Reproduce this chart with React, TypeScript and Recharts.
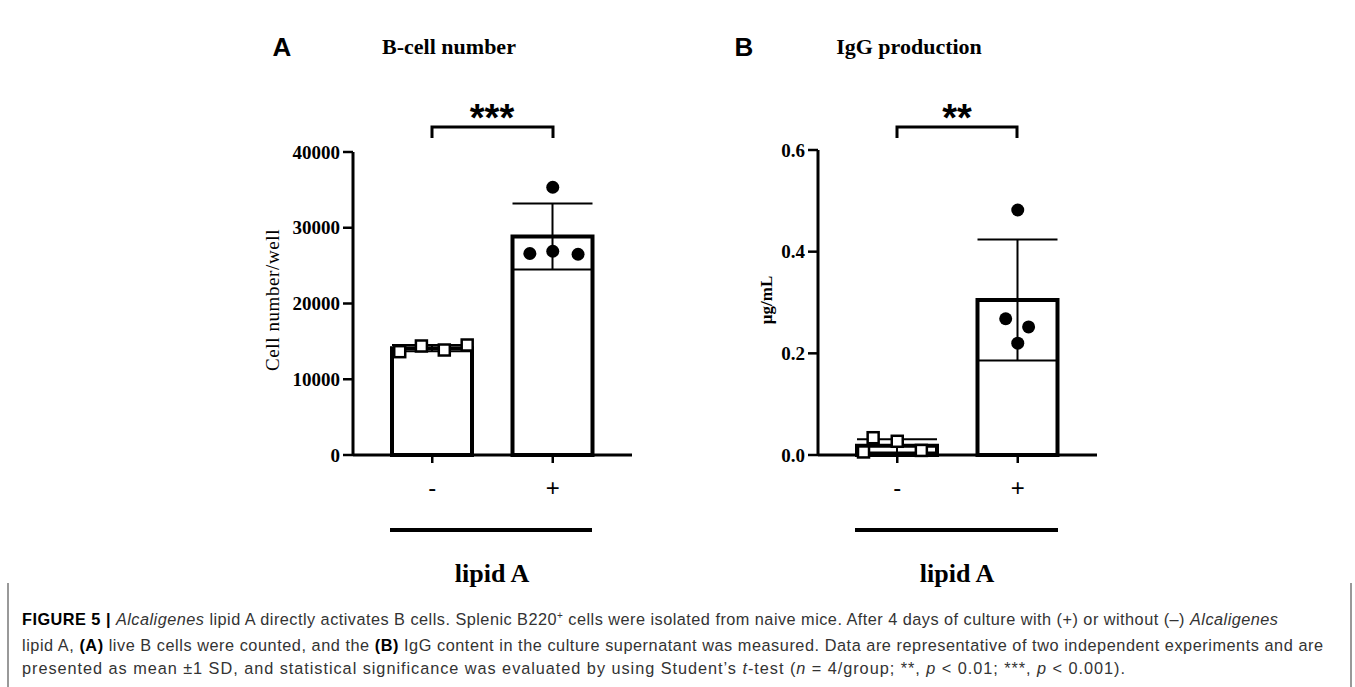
import React from "react";
import { ComposedChart, Bar, ErrorBar, Scatter, XAxis, YAxis } from "recharts";

// groups on the x axis (without / with lipid A)
const groups = ["-", "+"];

// panel A: B-cell number per well
const cellMean = [14100, 28850];
const cellSd = [420, 4360];
const cellMinus = [13640, 14390, 13860, 14520];
const cellMinusJitter = [-0.27, -0.09, 0.1, 0.29];
const cellPlus = [26600, 35350, 26900, 26500];
const cellPlusJitter = [-0.19, 0, 0, 0.21];
const cellTicks = [0, 10000, 20000, 30000, 40000];

// panel B: IgG production (ug/mL)
const iggMean = [0.018, 0.305];
const iggSd = [0.013, 0.119];
const iggMinus = [0.006, 0.034, 0.027, 0.009];
const iggMinusJitter = [-0.28, -0.2, 0, 0.2];
const iggPlus = [0.482, 0.268, 0.252, 0.22];
const iggPlusJitter = [0, -0.1, 0.09, 0];
const iggTicks = [0, 0.2, 0.4, 0.6];

const serif = "'Liberation Serif', 'Times New Roman', serif";
const sans = "'Liberation Sans', Arial, sans-serif";

const toPoints = (vals: number[], jitter: number[], group: number) =>
  vals.map((y, i) => ({ x: group + jitter[i], y }));

const Square = (p: any) => (
  <rect x={p.cx - 5.5} y={p.cy - 5.5} width={11} height={11} fill="#fff" stroke="#000" strokeWidth={2.5} />
);
const Dot = (p: any) => <circle cx={p.cx} cy={p.cy} r={6.5} fill="#000" />;

interface PanelProps {
  left: number;
  top: number;
  mean: number[];
  sd: number[];
  minus: { x: number; y: number }[];
  plus: { x: number; y: number }[];
  ticks: number[];
  fmt: (v: number) => string;
}

function Panel({ left, top, mean, sd, minus, plus, ticks, fmt }: PanelProps) {
  const data = groups.map((g, i) => ({ group: g, mean: mean[i], sd: sd[i] }));
  const max = ticks[ticks.length - 1];
  return (
    <div style={{ position: "absolute", left, top: 0 }}>
      <ComposedChart width={660} height={560} data={data} margin={{ top, right: 28, bottom: 560 - 455 - 50, left: 273 }}>
        <XAxis
          xAxisId="cat"
          dataKey="group"
          padding={{ left: 19, right: 19 }}
          height={50}
          axisLine={{ stroke: "#000", strokeWidth: 3 }}
          tickLine={{ stroke: "#000", strokeWidth: 2.5 }}
          tickSize={8}
          tickMargin={16}
          tick={{ fill: "#000", fontSize: 24, fontFamily: sans }}
        />
        <XAxis xAxisId="num" dataKey="x" type="number" domain={[-0.5, 1.5]} padding={{ left: 19, right: 19 }} hide />
        <YAxis
          width={80}
          domain={[0, max]}
          ticks={ticks}
          tickFormatter={fmt}
          interval={0}
          axisLine={{ stroke: "#000", strokeWidth: 3 }}
          tickLine={{ stroke: "#000", strokeWidth: 2.5 }}
          tickSize={10}
          tickMargin={3}
          tick={{ fill: "#000", fontSize: 19, fontWeight: "bold", fontFamily: serif }}
        />
        <Bar xAxisId="cat" dataKey="mean" barSize={80} fill="#fff" stroke="#000" strokeWidth={4} isAnimationActive={false}>
          <ErrorBar dataKey="sd" width={40} stroke="#000" strokeWidth={2} />
        </Bar>
        <Scatter xAxisId="num" data={minus} dataKey="y" shape={Square} isAnimationActive={false} />
        <Scatter xAxisId="num" data={plus} dataKey="y" shape={Dot} isAnimationActive={false} />
      </ComposedChart>
    </div>
  );
}

function Overlay() {
  const txt = { fill: "#333", fontFamily: sans, fontSize: 16.3 };
  return (
    <svg width={1355} height={687} style={{ position: "absolute", left: 0, top: 0, pointerEvents: "none" }}>
      {/* panel A annotations */}
      <text x={282} y={56} textAnchor="middle" fontFamily={sans} fontWeight="bold" fontSize={26}>A</text>
      <text x={449} y={54} textAnchor="middle" fontFamily={serif} fontWeight="bold" fontSize={22}>B-cell number</text>
      <path d="M432,138 V127 H553 V138" fill="none" stroke="#000" strokeWidth={3} />
      <text x={492} y={131} textAnchor="middle" fontFamily={sans} fontWeight="bold" fontSize={38}>***</text>
      <text x={272} y={300} textAnchor="middle" dominantBaseline="central" fontFamily={serif} fontSize={19} letterSpacing={0.6} transform="rotate(-90 272 300)">
        Cell number/well
      </text>
      <line x1={390} x2={592} y1={530} y2={530} stroke="#000" strokeWidth={4} />
      <text x={492} y={582} textAnchor="middle" fontFamily={serif} fontWeight="bold" fontSize={26}>lipid A</text>

      {/* panel B annotations */}
      <text x={744} y={56} textAnchor="middle" fontFamily={sans} fontWeight="bold" fontSize={26}>B</text>
      <text x={909} y={54} textAnchor="middle" fontFamily={serif} fontWeight="bold" fontSize={22}>IgG production</text>
      <path d="M897,138 V127 H1017 V138" fill="none" stroke="#000" strokeWidth={3} />
      <text x={957} y={131} textAnchor="middle" fontFamily={sans} fontWeight="bold" fontSize={38}>**</text>
      <text x={766} y={300} textAnchor="middle" dominantBaseline="central" fontFamily={serif} fontWeight="bold" fontSize={17} transform="rotate(-90 766 300)">
        µg/mL
      </text>
      <line x1={855} x2={1058} y1={530} y2={530} stroke="#000" strokeWidth={4} />
      <text x={957} y={582} textAnchor="middle" fontFamily={serif} fontWeight="bold" fontSize={26}>lipid A</text>

      {/* caption frame */}
      <line x1={8} x2={8} y1={583} y2={687} stroke="#777" strokeWidth={1.5} />
      <line x1={1351} x2={1351} y1={583} y2={687} stroke="#777" strokeWidth={1.5} />
      <text x={22} y={625} {...txt} textLength={1256} lengthAdjust="spacing">
        <tspan fontWeight="bold" fill="#000">FIGURE 5 | </tspan>
        <tspan fontStyle="italic">Alcaligenes</tspan> lipid A directly activates B cells. Splenic B220
        <tspan fontSize={10} dy={-6}>+</tspan>
        <tspan dy={6}> cells were isolated from naive mice. After 4 days of culture with (+) or without (–) </tspan>
        <tspan fontStyle="italic">Alcaligenes</tspan>
      </text>
      <text x={22} y={651} {...txt} textLength={1301} lengthAdjust="spacing">
        lipid A, <tspan fontWeight="bold" fill="#000">(A)</tspan> live B cells were counted, and the{" "}
        <tspan fontWeight="bold" fill="#000">(B)</tspan> IgG content in the culture supernatant was measured. Data are
        representative of two independent experiments and are
      </text>
      <text x={22} y={674} {...txt} textLength={1103} lengthAdjust="spacing">
        presented as mean ±1 SD, and statistical significance was evaluated by using Student’s{" "}
        <tspan fontStyle="italic">t</tspan>-test (<tspan fontStyle="italic">n</tspan> = 4/group; **,{" "}
        <tspan fontStyle="italic">p</tspan> &lt; 0.01; ***, <tspan fontStyle="italic">p</tspan> &lt; 0.001).
      </text>
    </svg>
  );
}

export default function App() {
  return (
    <div style={{ position: "absolute", left: 0, top: 0, width: 1355, height: 687, background: "#fff", overflow: "hidden" }}>
      <Panel
        left={0}
        top={152}
        mean={cellMean}
        sd={cellSd}
        minus={toPoints(cellMinus, cellMinusJitter, 0)}
        plus={toPoints(cellPlus, cellPlusJitter, 1)}
        ticks={cellTicks}
        fmt={(v) => String(v)}
      />
      <Panel
        left={465}
        top={150}
        mean={iggMean}
        sd={iggSd}
        minus={toPoints(iggMinus, iggMinusJitter, 0)}
        plus={toPoints(iggPlus, iggPlusJitter, 1)}
        ticks={iggTicks}
        fmt={(v) => v.toFixed(1)}
      />
      <Overlay />
    </div>
  );
}
